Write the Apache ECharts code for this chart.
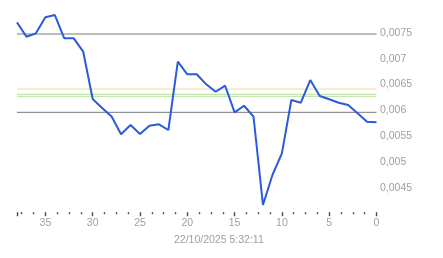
<!DOCTYPE html>
<html>
<head>
<meta charset="utf-8">
<script src="https://cdn.jsdelivr.net/npm/echarts@6/dist/echarts.min.js"></script>
<style>
html,body{margin:0;padding:0;background:#fff;}
#c{width:443px;height:258px;}
</style>
</head>
<body>
<div id="c"></div>
<script>
// x positions (units back from now, 0 = latest)
const xValues = [38,37,36,35,34,33,32,31,30,29,28,27,26,25,24,23,22,21,20,19,18,17,16,15,14,13,12,11,10,9,8,7,6,5,4,3,2,1,0];
const yValues = [0.00770,0.007423,0.007488,0.007797,0.007841,0.007392,0.007392,0.007134,0.006221,0.006048,0.005884,0.005541,0.005720,0.005547,0.005707,0.005734,0.005624,0.006941,0.006698,0.006698,0.006505,0.006362,0.006478,0.005965,0.006092,0.005880,0.004178,0.004756,0.005174,0.006202,0.006150,0.006588,0.006280,0.006216,0.006150,0.006106,0.005946,0.005784,0.005772];
const grayLines = [0.007475, 0.005965];
const yellowLines = [0.006414];
const greenLines = [0.006312, 0.006274];
const xRange = [0, 38];
const timestampLabel = '22/10/2025 5:32:11';

const points = xValues.map((x, i) => [x, yValues[i]]);
const fmt = v => String(v).replace('.', ',');

function refSeries(v, color) {
  return {
    type: 'line',
    data: [[xRange[0], v], [xRange[1], v]],
    symbol: 'none',
    silent: true,
    z: 1,
    lineStyle: {color: color, width: 1}
  };
}

const refs = []
  .concat(grayLines.map(v => refSeries(v, '#7a7a7a')))
  .concat(yellowLines.map(v => refSeries(v, '#eedc98')))
  .concat(greenLines.map(v => refSeries(v, '#b6e09a')));

const chart = echarts.init(document.getElementById('c'), null, {renderer: 'canvas'});
chart.setOption({
  animation: false,
  backgroundColor: '#ffffff',
  textStyle: {fontFamily: 'Liberation Sans, Arial, sans-serif'},
  grid: {left: 17, right: 66.5, top: 6.8, bottom: 43.8},
  xAxis: {
    type: 'value',
    inverse: true,
    min: xRange[0],
    max: xRange[1],
    interval: 5,
    offset: -2,
    axisLine: {show: true, onZero: false, lineStyle: {color: 'rgba(255,255,255,0)', width: 1}},
    axisTick: {show: true, length: 4, lineStyle: {color: '#4a4a4a', width: 1.4}},
    minorTick: {show: true, splitNumber: 4, length: 2, lineStyle: {color: '#4a4a4a', width: 1.4}},
    splitLine: {show: false},
    minorSplitLine: {show: false},
    axisLabel: {color: '#a0a0a0', fontSize: 10.5, margin: 5.5, showMaxLabel: false,
      formatter: v => (v % 5 === 0 && v <= 35) ? String(v) : ''}
  },
  yAxis: {
    type: 'value',
    position: 'right',
    min: 0.004,
    max: 0.008,
    interval: 0.0005,
    axisLine: {show: false},
    axisTick: {show: false},
    splitLine: {show: false},
    axisLabel: {color: '#a0a0a0', fontSize: 10.5, margin: 3.5,
      formatter: v => {
        const r = Math.round(v * 10000) / 10000;
        if (r <= 0.004 || r >= 0.008) return '';
        return fmt(r);
      }}
  },
  graphic: [{
    type: 'text',
    left: 174,
    top: 234.5,
    style: {text: timestampLabel, fill: '#a0a0a0', font: '10.5px "Liberation Sans", Arial, sans-serif'}
  }],
  series: refs.concat([{
    type: 'line',
    data: points,
    symbol: 'none',
    z: 5,
    lineStyle: {color: '#2a5bd8', width: 2}
  }])
});
</script>
</body>
</html>
